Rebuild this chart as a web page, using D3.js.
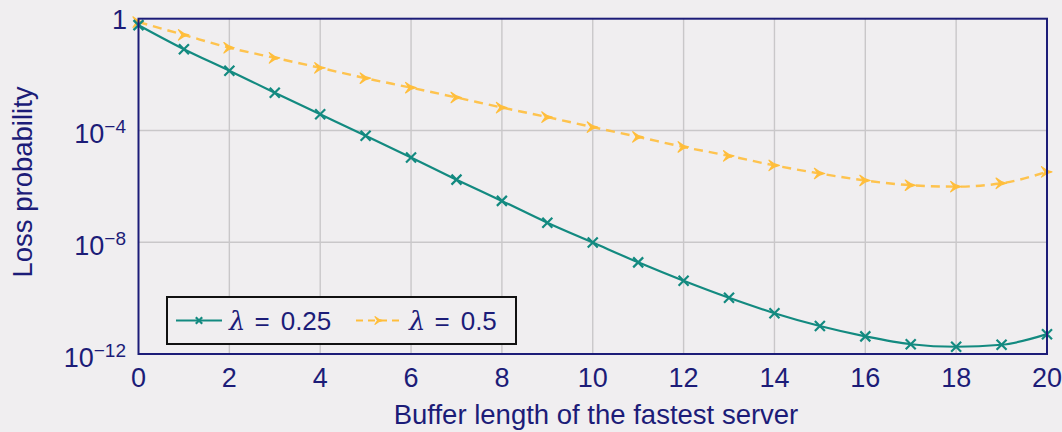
<!DOCTYPE html>
<html>
<head>
<meta charset="utf-8">
<script src="https://cdn.jsdelivr.net/npm/d3@7"></script>
<style>
  html, body { margin: 0; padding: 0; background: #f0eef0; }
  svg { display: block; }
  text { font-family: "Liberation Sans", "DejaVu Sans", sans-serif; fill: #1c1c78; }
</style>
</head>
<body>
<svg id="chart" width="1062" height="432"></svg>
<script>
// Buffer length of the fastest server
const bufferLength = [0,1,2,3,4,5,6,7,8,9,10,11,12,13,14,15,16,17,18,19,20];
// log10 of loss probability, lambda = 0.25
const lossLog025 = [-0.23,-1.09,-1.86,-2.65,-3.42,-4.19,-4.97,-5.76,-6.52,-7.30,-8.01,-8.72,-9.38,-9.99,-10.54,-11.00,-11.37,-11.65,-11.74,-11.67,-11.29];
// log10 of loss probability, lambda = 0.5
const lossLog05 = [-0.12,-0.58,-1.04,-1.40,-1.76,-2.13,-2.47,-2.82,-3.18,-3.52,-3.88,-4.23,-4.59,-4.91,-5.25,-5.54,-5.79,-5.96,-6.01,-5.89,-5.48];
const xTicks = [0,2,4,6,8,10,12,14,16,18,20];
const yTickExps = [0,-4,-8,-12];
const seriesNames = ["0.25", "0.5"];

const navy = "#1c1c78";
const teal = "#138a80";
const amber = "#ffbe3c";

const svg = d3.select("#chart");
const m = { left: 138.5, right: 1047, top: 18.7, bottom: 354 };

const x = d3.scaleLinear().domain([0, 20]).range([m.left, m.right]);
const y = d3.scaleLog().domain([1e-12, 1]).range([m.bottom, m.top]);

// grid
const grid = svg.append("g").attr("stroke", "#c9c7c9").attr("stroke-width", 1.4);
grid.selectAll("line.v").data(xTicks.slice(1, -1)).join("line")
  .attr("x1", d => x(d)).attr("x2", d => x(d)).attr("y1", m.top).attr("y2", m.bottom);
grid.selectAll("line.h").data(yTickExps.slice(1, -1)).join("line")
  .attr("y1", d => y(Math.pow(10, d))).attr("y2", d => y(Math.pow(10, d))).attr("x1", m.left).attr("x2", m.right);

// series
const pts025 = bufferLength.map((b, i) => [b, Math.pow(10, lossLog025[i])]);
const pts05 = bufferLength.map((b, i) => [b, Math.pow(10, lossLog05[i])]);
const line = d3.line().x(d => x(d[0])).y(d => y(d[1])).curve(d3.curveMonotoneX);

svg.append("path").datum(pts05).attr("d", line)
  .attr("fill", "none").attr("stroke", amber).attr("stroke-width", 2.4)
  .attr("stroke-dasharray", "9,6").attr("stroke-opacity", 0.9);
svg.append("path").datum(pts025).attr("d", line)
  .attr("fill", "none").attr("stroke", teal).attr("stroke-width", 2.2);

function crossMark(g, cx, cy, s, color) {
  g.append("path")
    .attr("d", `M${cx - s},${cy - s}L${cx + s},${cy + s}M${cx - s},${cy + s}L${cx + s},${cy - s}`)
    .attr("stroke", color).attr("stroke-width", 2.2).attr("fill", "none");
}
function arrowMark(g, cx, cy, s, color) {
  g.append("path")
    .attr("d", `M${cx - s},${cy - s * 0.95}Q${cx - s * 0.1},${cy - s * 0.15} ${cx + s * 0.9},${cy}Q${cx - s * 0.1},${cy + s * 0.15} ${cx - s},${cy + s * 0.95}L${cx - s * 0.35},${cy}Z`)
    .attr("fill", color).attr("stroke", color).attr("stroke-width", 1.2).attr("stroke-linejoin", "round");
}

const marks = svg.append("g");
pts05.forEach(d => arrowMark(marks, x(d[0]), y(d[1]), 5.5, amber));
pts025.forEach(d => crossMark(marks, x(d[0]), y(d[1]), 5, teal));

// frame
svg.append("rect").attr("x", m.left).attr("y", m.top)
  .attr("width", m.right - m.left).attr("height", m.bottom - m.top)
  .attr("fill", "none").attr("stroke", navy).attr("stroke-width", 2);

// x tick labels
svg.append("g").selectAll("text").data(xTicks).join("text")
  .attr("x", d => x(d)).attr("y", 386.5).attr("text-anchor", "middle")
  .attr("font-size", 27).text(d => d);

// y tick labels
const yl = svg.append("g");
yTickExps.forEach(e => {
  const ty = y(Math.pow(10, e));
  if (e === 0) {
    yl.append("text").attr("x", 127).attr("y", ty + 10).attr("text-anchor", "end")
      .attr("font-size", 27).text("1");
  } else {
    const t = yl.append("text").attr("x", 126).attr("y", ty + 13).attr("text-anchor", "end").attr("font-size", 27);
    t.append("tspan").text("10");
    t.append("tspan").attr("font-size", 19).attr("dy", -10).text("\u2212" + (-e));
  }
});

// axis titles
svg.append("text").attr("x", 596).attr("y", 424)
  .attr("text-anchor", "middle").attr("font-size", 27.5).text("Buffer length of the fastest server");
svg.append("text").attr("transform", "translate(32,182) rotate(-90)")
  .attr("text-anchor", "middle").attr("font-size", 27.5).text("Loss probability");

// legend
const lg = svg.append("g");
lg.append("rect").attr("x", 167).attr("y", 297).attr("width", 349).attr("height", 47)
  .attr("fill", "#f0eef0").attr("stroke", "#111").attr("stroke-width", 2);
const ly = 320.5;
lg.append("line").attr("x1", 176).attr("x2", 222).attr("y1", ly).attr("y2", ly)
  .attr("stroke", teal).attr("stroke-width", 2.2);
crossMark(lg, 199, ly, 3.2, teal);
lg.append("line").attr("x1", 356).attr("x2", 403).attr("y1", ly).attr("y2", ly)
  .attr("stroke", amber).attr("stroke-width", 2.2).attr("stroke-dasharray", "7,5");
arrowMark(lg, 379, ly, 4, amber);

function legendLabel(x0, val) {
  const t = lg.append("text").attr("x", x0).attr("y", ly + 9.5).attr("font-size", 26);
  t.append("tspan").attr("font-family", "DejaVu Serif").attr("font-style", "italic").text("\u03bb");
  t.append("tspan").attr("dx", 9).text("=");
  t.append("tspan").attr("dx", 11).text(val);
}
legendLabel(229, seriesNames[0]);
legendLabel(409, seriesNames[1]);
</script>
</body>
</html>
